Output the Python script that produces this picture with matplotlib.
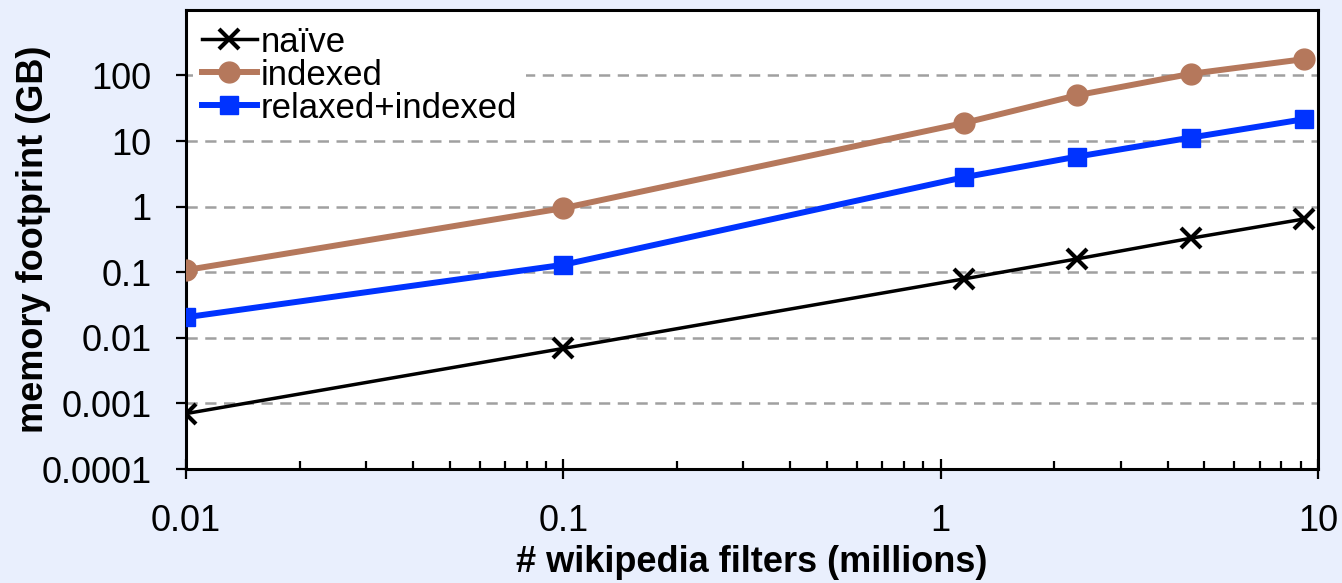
import matplotlib.pyplot as plt
from matplotlib.ticker import FixedLocator, NullFormatter, LogLocator

plt.rcParams['font.family'] = ['Liberation Sans', 'DejaVu Sans']

# filters in millions
filters = [0.01, 0.1, 1.15, 2.3, 4.6, 9.2]
# memory footprint in GB
naive = [0.0007, 0.0069, 0.079, 0.16, 0.33, 0.65]
indexed = [0.108, 0.95, 18.8, 50, 106, 178]
relaxed_indexed = [0.0206, 0.13, 2.8, 5.8, 11.3, 21.6]

bg = '#e9effd'
fig = plt.figure(figsize=(13.42, 5.83), dpi=100, facecolor=bg)
ax = fig.add_axes([0.1386, 0.1955, 0.8435, 0.7875])
ax.set_facecolor('white')

ax.plot(filters, naive, color='black', lw=2.5, marker='x', ms=15, mew=3,
        label='naïve', zorder=5)
ax.plot(filters, indexed, color='#b5785c', lw=4.3, marker='o', ms=15,
        label='indexed', zorder=4)
ax.plot(filters, relaxed_indexed, color='#0033ff', lw=4.3, marker='s', ms=13,
        label='relaxed+indexed', zorder=4)

ax.set_xscale('log')
ax.set_yscale('log')
ax.set_xlim(0.01, 10)
ax.set_ylim(1e-4, 1000)

yt = [1e-4, 1e-3, 1e-2, 0.1, 1, 10, 100]
ax.set_yticks(yt)
ax.set_yticklabels(['0.0001', '0.001', '0.01', '0.1', '1', '10', '100'])
ax.yaxis.set_minor_locator(FixedLocator([]))
ax.set_xticks([0.01, 0.1, 1, 10])
ax.set_xticklabels(['0.01', '0.1', '1', '10'])
ax.xaxis.set_minor_locator(LogLocator(base=10, subs=range(2, 10)))
ax.xaxis.set_minor_formatter(NullFormatter())

ax.tick_params(axis='y', which='major', direction='out', length=7, width=1.6,
               labelsize=26, pad=18)
ax.tick_params(axis='x', which='major', direction='inout', length=15, width=1.6,
               labelsize=26, pad=18)
ax.tick_params(axis='x', which='minor', direction='in', length=6, width=1.6)

for sp in ax.spines.values():
    sp.set_linewidth(2.2)
    sp.set_color('black')

ax.yaxis.grid(True, which='major', color='#a0a0a0', ls=(0, (4.5, 3)), lw=1.8)
ax.set_axisbelow(True)

ax.set_xlabel('# wikipedia filters (millions)', fontsize=26, fontweight='bold',
              labelpad=4)
ax.set_ylabel('memory footprint (GB)', fontsize=26, fontweight='bold',
              labelpad=-7)

leg = ax.legend(loc='upper left', fontsize=25, frameon=True, fancybox=False,
                borderaxespad=0.2, borderpad=0.25, labelspacing=0.0,
                handlelength=1.6, handletextpad=0.1)
leg.get_frame().set_edgecolor('none')
leg.get_frame().set_facecolor('white')
leg.get_frame().set_alpha(1)
leg.set_zorder(10)

fig.savefig('out.png', dpi=100, facecolor=bg)
